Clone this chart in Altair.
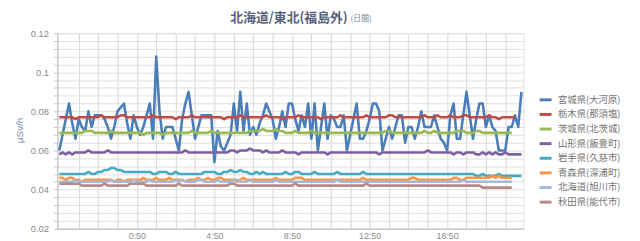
import altair as alt
import pandas as pd

series_names = ["宮城県(大河原)", "栃木県(那須塩)", "茨城県(北茨城)", "山形県(飯豊町)",
                "岩手県(久慈市)", "青森県(深浦町)", "北海道(旭川市)", "秋田県(能代市)"]
series_colors = ["#4A7EBB", "#BE4B48", "#98B954", "#7D60A0", "#46AAC5", "#F79646", "#A5B8D8", "#B88A86"]

miyagi = [
0.060,0.068,0.076,0.084,0.074,0.066,0.076,0.072,0.070,0.080,0.072,0.078,
0.078,0.078,0.076,0.072,0.066,0.072,0.080,0.082,0.084,0.074,0.066,0.078,
0.072,0.068,0.072,0.078,0.084,0.066,0.108,0.080,0.066,0.072,0.072,0.072,
0.066,0.060,0.076,0.084,0.090,0.078,0.066,0.072,0.078,0.078,0.078,0.078,
0.054,0.070,0.062,0.060,0.064,0.068,0.084,0.070,0.090,0.070,0.084,0.068,
0.072,0.068,0.074,0.078,0.084,0.080,0.076,0.066,0.072,0.080,0.072,0.084,
0.084,0.076,0.070,0.078,0.072,0.084,0.066,0.084,0.060,0.072,0.084,0.066,
0.078,0.076,0.072,0.072,0.078,0.060,0.068,0.076,0.084,0.066,0.066,0.070,
0.076,0.084,0.084,0.080,0.060,0.066,0.072,0.066,0.072,0.078,0.078,0.064,
0.072,0.072,0.066,0.072,0.080,0.072,0.072,0.072,0.078,0.072,0.066,0.064,
0.060,0.078,0.084,0.066,0.066,0.078,0.090,0.078,0.066,0.076,0.084,0.084,
0.072,0.078,0.072,0.070,0.060,0.060,0.060,0.072,0.072,0.078,0.072,0.090]

tochigi = [
0.077,0.077,0.077,0.077,0.077,0.076,0.077,0.077,0.077,0.077,0.077,0.077,
0.077,0.078,0.077,0.077,0.077,0.077,0.077,0.078,0.078,0.077,0.077,0.077,
0.077,0.077,0.077,0.077,0.077,0.078,0.077,0.077,0.077,0.077,0.077,0.077,
0.076,0.077,0.077,0.077,0.077,0.078,0.077,0.077,0.077,0.077,0.077,0.077,
0.077,0.077,0.077,0.076,0.077,0.077,0.077,0.077,0.078,0.077,0.077,0.077,
0.077,0.077,0.077,0.077,0.078,0.077,0.077,0.077,0.077,0.076,0.077,0.077,
0.077,0.077,0.078,0.077,0.077,0.077,0.077,0.077,0.077,0.076,0.077,0.077,
0.077,0.077,0.077,0.078,0.077,0.077,0.077,0.077,0.077,0.077,0.077,0.078,
0.077,0.077,0.077,0.077,0.077,0.077,0.078,0.078,0.077,0.077,0.077,0.077,
0.077,0.077,0.077,0.077,0.077,0.078,0.077,0.077,0.077,0.078,0.077,0.077,
0.077,0.078,0.077,0.077,0.077,0.078,0.078,0.077,0.077,0.077,0.077,0.077,
0.077,0.078,0.077,0.077,0.076,0.077,0.077,0.077,0.077,0.077]

ibaraki = [
0.069,0.069,0.069,0.069,0.069,0.069,0.069,0.069,0.070,0.070,0.070,0.069,
0.069,0.069,0.069,0.069,0.070,0.069,0.069,0.069,0.069,0.069,0.069,0.069,
0.069,0.069,0.068,0.069,0.069,0.069,0.069,0.069,0.068,0.069,0.069,0.069,
0.069,0.069,0.069,0.069,0.069,0.070,0.069,0.069,0.069,0.069,0.069,0.070,
0.069,0.069,0.069,0.069,0.069,0.069,0.069,0.069,0.069,0.069,0.069,0.070,
0.070,0.070,0.070,0.071,0.070,0.070,0.070,0.071,0.070,0.070,0.069,0.069,
0.069,0.070,0.069,0.069,0.069,0.069,0.070,0.069,0.069,0.069,0.069,0.069,
0.069,0.069,0.069,0.069,0.069,0.069,0.069,0.069,0.069,0.069,0.069,0.069,
0.069,0.069,0.069,0.069,0.069,0.070,0.070,0.069,0.069,0.069,0.069,0.069,
0.069,0.069,0.069,0.069,0.069,0.070,0.069,0.069,0.070,0.069,0.069,0.069,
0.069,0.069,0.069,0.070,0.070,0.070,0.069,0.069,0.069,0.070,0.070,0.069,
0.069,0.069,0.069,0.069,0.069,0.069,0.069,0.069,0.069]

yamagata = [
0.058,0.059,0.058,0.059,0.058,0.059,0.059,0.059,0.059,0.060,0.059,0.059,
0.059,0.059,0.059,0.060,0.059,0.059,0.059,0.059,0.059,0.059,0.059,0.059,
0.059,0.059,0.059,0.059,0.059,0.059,0.059,0.059,0.059,0.059,0.059,0.059,
0.059,0.059,0.059,0.060,0.059,0.059,0.059,0.059,0.059,0.059,0.059,0.059,
0.059,0.059,0.059,0.059,0.059,0.060,0.060,0.059,0.060,0.060,0.060,0.061,
0.060,0.060,0.060,0.059,0.060,0.059,0.059,0.059,0.059,0.060,0.059,0.059,
0.059,0.059,0.058,0.059,0.059,0.059,0.059,0.059,0.059,0.059,0.059,0.058,
0.059,0.059,0.059,0.059,0.059,0.059,0.059,0.059,0.059,0.059,0.059,0.059,
0.059,0.059,0.059,0.058,0.059,0.059,0.059,0.059,0.059,0.059,0.059,0.059,
0.059,0.059,0.059,0.059,0.059,0.059,0.060,0.059,0.059,0.059,0.059,0.059,
0.059,0.059,0.058,0.059,0.059,0.058,0.059,0.059,0.059,0.058,0.058,0.059,
0.058,0.059,0.058,0.059,0.058,0.058,0.059,0.058,0.058,0.058,0.058,0.058]

iwate = [
0.048,0.048,0.048,0.048,0.048,0.048,0.048,0.048,0.048,0.049,0.048,0.048,
0.049,0.049,0.050,0.050,0.051,0.051,0.050,0.050,0.049,0.049,0.049,0.049,
0.049,0.049,0.049,0.049,0.049,0.048,0.048,0.049,0.049,0.049,0.048,0.048,
0.049,0.048,0.048,0.048,0.048,0.048,0.048,0.048,0.048,0.049,0.049,0.049,
0.049,0.048,0.048,0.049,0.049,0.050,0.049,0.049,0.050,0.049,0.049,0.048,
0.048,0.049,0.048,0.049,0.048,0.048,0.048,0.048,0.048,0.048,0.049,0.048,
0.048,0.049,0.049,0.048,0.048,0.048,0.048,0.049,0.048,0.048,0.048,0.048,
0.048,0.048,0.049,0.048,0.048,0.048,0.048,0.048,0.048,0.048,0.049,0.048,
0.048,0.048,0.048,0.048,0.048,0.048,0.048,0.048,0.048,0.048,0.048,0.048,
0.048,0.048,0.048,0.048,0.048,0.048,0.048,0.048,0.048,0.048,0.048,0.048,
0.048,0.048,0.048,0.048,0.048,0.048,0.048,0.048,0.048,0.047,0.047,0.048,
0.047,0.047,0.047,0.047,0.048,0.047,0.047,0.047,0.047,0.047,0.047,0.047]

aomori = [
0.046,0.046,0.045,0.046,0.046,0.045,0.045,0.044,0.045,0.045,0.045,0.045,
0.045,0.045,0.045,0.045,0.045,0.044,0.045,0.045,0.044,0.045,0.045,0.045,
0.045,0.045,0.046,0.045,0.045,0.045,0.046,0.045,0.045,0.045,0.046,0.045,
0.045,0.045,0.045,0.044,0.045,0.045,0.045,0.046,0.045,0.045,0.046,0.045,
0.045,0.046,0.046,0.045,0.045,0.045,0.045,0.044,0.045,0.046,0.045,0.045,
0.045,0.045,0.045,0.045,0.045,0.045,0.045,0.046,0.045,0.045,0.045,0.045,
0.045,0.046,0.046,0.046,0.045,0.045,0.045,0.045,0.045,0.045,0.045,0.045,
0.045,0.045,0.045,0.045,0.045,0.045,0.045,0.045,0.045,0.045,0.046,0.045,
0.045,0.045,0.045,0.045,0.045,0.045,0.045,0.045,0.045,0.045,0.045,0.045,
0.045,0.046,0.046,0.045,0.045,0.045,0.045,0.045,0.045,0.045,0.045,0.045,
0.045,0.045,0.046,0.046,0.045,0.045,0.046,0.046,0.046,0.046,0.046,0.046,
0.046,0.046,0.047,0.046,0.047,0.046,0.046,0.046,0.046]

hokkaido = [
0.044,0.044,0.044,0.044,0.044,0.045,0.044,0.044,0.044,0.044,0.044,0.044,
0.044,0.044,0.044,0.044,0.045,0.044,0.044,0.044,0.044,0.044,0.044,0.045,
0.044,0.044,0.044,0.044,0.045,0.044,0.044,0.044,0.044,0.044,0.044,0.044,
0.045,0.044,0.045,0.044,0.044,0.044,0.044,0.045,0.045,0.044,0.044,0.044,
0.044,0.045,0.044,0.044,0.044,0.044,0.045,0.045,0.044,0.044,0.044,0.045,
0.044,0.044,0.044,0.044,0.044,0.044,0.044,0.045,0.044,0.044,0.044,0.044,
0.044,0.044,0.044,0.044,0.044,0.044,0.044,0.044,0.044,0.044,0.044,0.044,
0.044,0.044,0.045,0.044,0.044,0.044,0.044,0.044,0.044,0.044,0.044,0.044,
0.044,0.044,0.044,0.044,0.044,0.044,0.044,0.044,0.044,0.044,0.044,0.044,
0.044,0.044,0.044,0.044,0.044,0.044,0.044,0.044,0.044,0.044,0.044,0.044,
0.044,0.044,0.044,0.044,0.044,0.045,0.044,0.044,0.044,0.044,0.044,0.044,
0.044,0.044,0.044,0.044,0.044,0.044,0.044,0.044,0.044]

akita = [
0.043,0.043,0.043,0.043,0.043,0.043,0.043,0.042,0.042,0.042,0.042,0.042,
0.042,0.042,0.043,0.042,0.042,0.042,0.042,0.042,0.042,0.042,0.043,0.043,
0.043,0.043,0.043,0.042,0.042,0.042,0.042,0.042,0.042,0.042,0.042,0.042,
0.042,0.043,0.042,0.042,0.042,0.042,0.042,0.042,0.042,0.042,0.042,0.042,
0.042,0.042,0.042,0.042,0.042,0.043,0.043,0.042,0.042,0.042,0.042,0.042,
0.042,0.042,0.042,0.042,0.042,0.042,0.042,0.042,0.042,0.042,0.042,0.042,
0.042,0.043,0.042,0.042,0.042,0.042,0.042,0.042,0.042,0.042,0.042,0.042,
0.042,0.042,0.042,0.042,0.042,0.042,0.042,0.042,0.042,0.042,0.042,0.043,
0.042,0.042,0.042,0.042,0.042,0.042,0.042,0.042,0.042,0.042,0.042,0.042,
0.042,0.042,0.042,0.042,0.042,0.042,0.042,0.042,0.042,0.042,0.042,0.042,
0.042,0.042,0.042,0.042,0.042,0.042,0.042,0.042,0.042,0.042,0.042,0.041,
0.041,0.041,0.041,0.041,0.041,0.041,0.041,0.041,0.041]

all_series = [miyagi, tochigi, ibaraki, yamagata, iwate, aomori, hokkaido, akita]

# x tick labels (10-minute samples, index 0 = 20:50 of the previous day)
tick_positions = [24, 48, 72, 96, 120]
tick_labels = ["0:50", "4:50", "8:50", "12:50", "16:50"]
grid_positions = list(range(6, 144, 6))
y_grid = [round(0.02 + 0.004 * k, 3) for k in range(26)]

rows = []
for name, vals in zip(series_names, all_series):
    for i, v in enumerate(vals):
        rows.append({"series": name, "i": i, "v": v})
df = pd.DataFrame(rows)

label_js = "{" + ",".join(f"'{p}':'{l}'" for p, l in zip(tick_positions, tick_labels)) + "}"
x_label_expr = f"({label_js})[datum.value] || ''"
y_label_expr = "abs(datum.value*50 - round(datum.value*50)) < 0.01 ? format(datum.value, '~g') : ''"

lines = alt.Chart(df).mark_line(strokeWidth=2.6, strokeJoin="round").encode(
    x=alt.X("i:Q",
            scale=alt.Scale(domain=[-0.6, 143.6], nice=False, zero=False),
            axis=alt.Axis(values=grid_positions, labelExpr=x_label_expr, grid=True,
                          gridColor="#d6d6d6", gridWidth=1, ticks=False,
                          domainColor="#bdbdbd", labelColor="#8a8a8a", labelFontSize=9,
                          labelFont="Liberation Sans", labelPadding=3, title=None)),
    y=alt.Y("v:Q",
            scale=alt.Scale(domain=[0.02, 0.12], nice=False, zero=False),
            axis=alt.Axis(values=y_grid, labelExpr=y_label_expr, grid=True,
                          gridColor="#dedede", gridWidth=1, ticks=True, tickSize=4,
                          tickColor="#c8c8c8", domainColor="#bdbdbd",
                          labelColor="#8a8a8a", labelFontSize=9.5, labelFont="Liberation Sans",
                          labelPadding=5, title="μSv/h", titleFont="Liberation Sans",
                          titleFontSize=10, titleFontWeight="normal", titleColor="#6d8aac",
                          titleAngle=270, titleX=-38, titleY=98, titleAlign="center",
                          titleBaseline="middle")),
    color=alt.Color("series:N",
                    scale=alt.Scale(domain=series_names, range=series_colors),
                    sort=series_names,
                    legend=alt.Legend(orient="none", legendX=487, legendY=60, title=None,
                                      symbolType="stroke", symbolSize=144,
                                      symbolStrokeWidth=3, labelFontSize=9.5,
                                      labelFont="Noto Sans CJK JP", labelColor="#737373",
                                      labelOffset=5, rowPadding=0.8, padding=0,
                                      labelLimit=200)),
    order=alt.Order("series:N", sort="descending"),
)

title_df = pd.DataFrame({"t": ["北海道/東北(福島外)"]})
sub_df = pd.DataFrame({"t": ["(日間)"]})

title_main = alt.Chart(title_df).mark_text(
    align="right", baseline="middle", font="Noto Sans CJK JP", fontSize=13,
    fontWeight="bold", color="#56637a"
).encode(text="t:N", x=alt.value(294), y=alt.value(-15))

title_sub = alt.Chart(sub_df).mark_text(
    align="left", baseline="middle", font="Noto Sans CJK JP", fontSize=8,
    color="#7a8496"
).encode(text="t:N", x=alt.value(297), y=alt.value(-14))

chart = alt.layer(lines, title_main, title_sub).properties(
    width=472, height=198,
    autosize=alt.AutoSizeParams(type="none"),
    padding={"left": 50, "top": 24, "right": 110, "bottom": 11},
).configure_view(stroke=None).configure(background="white")

chart.save("out.html", embed_options={"renderer": "svg", "actions": False})
